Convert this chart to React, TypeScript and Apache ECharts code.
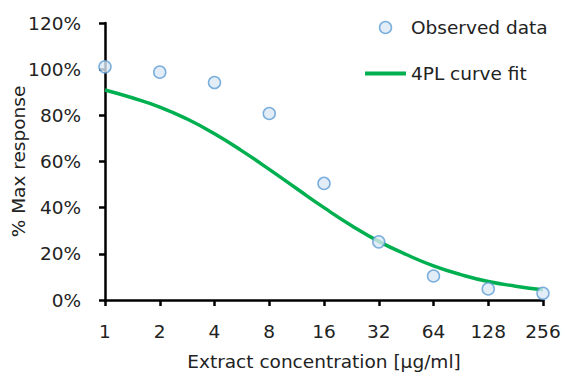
import React, { useEffect, useRef } from "react";
import * as echarts from "echarts";

const concentrations = [1, 2, 4, 8, 16, 32, 64, 128, 256];
const observed = [101, 98.7, 94.2, 80.8, 50.5, 25.2, 10.4, 4.8, 2.9];

const curveX = [1, 1.41, 2, 2.83, 4, 5.66, 8, 11.3, 16, 22.6, 32, 45.3, 64, 90.5, 128, 181, 256];
const curveY = [91, 87.6, 83.6, 78.4, 72, 64.6, 56.6, 48.3, 40, 32.3, 25.4, 19.7, 14.8, 11, 8, 6, 4.4];

const yTicks = [0, 20, 40, 60, 80, 100, 120];

const FONT = "'DejaVu Sans', 'Noto Sans', sans-serif";
const FS = 18.5;
const TEXT = "#222222";

export default function App() {
  const ref = useRef<HTMLDivElement>(null);
  useEffect(() => {
    if (!ref.current) return;
    const chart = echarts.init(ref.current, undefined, { renderer: "svg" });
    chart.setOption({
      animation: false,
      backgroundColor: "#ffffff",
      textStyle: { fontFamily: FONT },
      grid: { left: 105, right: 20, top: 23, bottom: 74, containLabel: false, outerBoundsMode: "none" },
      legend: {
        orient: "vertical",
        left: 358,
        top: 13,
        itemWidth: 41,
        itemHeight: 12,
        itemGap: 27,
        textStyle: { fontFamily: FONT, fontSize: FS, color: TEXT },
        data: [
          { name: "Observed data", icon: "circle", itemStyle: { color: "#dbe8f5", borderColor: "#5b9bd5", borderWidth: 1.5 } },
          { name: "4PL curve fit", itemStyle: { opacity: 0 }, lineStyle: { color: "#00b050", width: 4 } },
        ],
      },
      xAxis: {
        type: "log",
        logBase: 2,
        min: 1,
        max: 256,
        interval: 1,
        name: "Extract concentration [µg/ml]",
        nameLocation: "middle",
        nameGap: 52,
        nameTextStyle: { fontFamily: FONT, fontSize: FS, color: TEXT },
        axisLine: { lineStyle: { color: "#000", width: 2.5 } },
        axisTick: { show: true, length: 6, lineStyle: { color: "#000", width: 2.5 } },
        axisLabel: {
          fontFamily: FONT,
          fontSize: FS,
          color: TEXT,
          margin: 22,
          formatter: (v: number) => String(Math.round(v)),
        },
        splitLine: { show: false },
        minorTick: { show: false },
      },
      yAxis: {
        type: "value",
        min: yTicks[0],
        max: yTicks[yTicks.length - 1],
        interval: 20,
        name: "% Max response",
        nameLocation: "middle",
        nameGap: 77,
        nameMoveOverlap: false,
        nameTextStyle: { fontFamily: FONT, fontSize: FS, color: TEXT },
        axisLine: { show: true, lineStyle: { color: "#000", width: 2.5 } },
        axisTick: { show: true, length: 6, lineStyle: { color: "#000", width: 2.5 } },
        axisLabel: {
          fontFamily: FONT,
          fontSize: FS,
          color: TEXT,
          margin: 24,
          formatter: (v: number) => `${v}%`,
        },
        splitLine: { show: false },
      },
      series: [
        {
          name: "4PL curve fit",
          type: "line",
          smooth: true,
          showSymbol: false,
          symbol: "none",
          lineStyle: { color: "#00b050", width: 3.5 },
          itemStyle: { color: "#00b050" },
          data: curveX.map((x, i) => [x, curveY[i]]),
          z: 2,
        },
        {
          name: "Observed data",
          type: "scatter",
          symbol: "circle",
          symbolSize: 12,
          itemStyle: { color: "#dbe8f5", borderColor: "#5b9bd5", borderWidth: 1.5 },
          data: concentrations.map((x, i) => [x, observed[i]]),
          z: 3,
        },
      ],
    });
    return () => chart.dispose();
  }, []);
  return (
    <div
      ref={ref}
      style={{ position: "fixed", left: 0, top: 0, width: 563, height: 374 }}
    />
  );
}
